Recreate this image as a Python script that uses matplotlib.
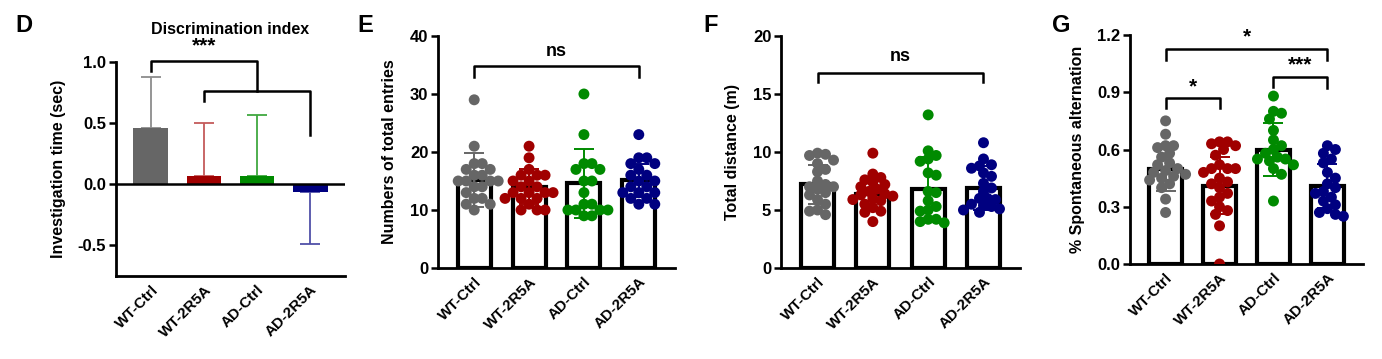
import numpy as np
import matplotlib.pyplot as plt

plt.rcParams['font.family'] = ['Liberation Sans', 'DejaVu Sans']
plt.rcParams['font.weight'] = 'bold'

groups = ['WT-Ctrl', 'WT-2R5A', 'AD-Ctrl', 'AD-2R5A']
colors = ['#666666', '#a00000', '#008a00', '#000080']
light_colors = ['#8c8c8c', '#c45a5a', '#40a840', '#5050a8']

# D - discrimination index (mean, upper/lower SD)
di_mean = [0.46, 0.07, 0.07, -0.06]
di_sd = [0.42, 0.43, 0.50, 0.43]

# E - total entries
entries_wt_ctrl = [29, 21, 18, 18, 17, 17, 16, 16, 15, 15, 15, 15, 14, 14, 13, 12, 12, 11, 11, 10]
entries_wt_2r5a = [21, 19, 17, 16, 16, 16, 15, 15, 14, 14, 13, 13, 13, 13, 12, 12, 12, 11, 10, 10, 10]
entries_ad_ctrl = [30, 23, 18, 18, 17, 17, 15, 15, 13, 11, 11, 10, 10, 10, 10, 9, 9]
entries_ad_2r5a = [23, 19, 19, 18, 18, 17, 16, 16, 15, 15, 14, 14, 13, 13, 13, 12, 12, 11, 11]
entries_mean = [15.2, 14.0, 14.6, 15.1]
entries_sd = [4.6, 3.0, 5.9, 2.9]

# F - total distance
dist_wt_ctrl = [9.9, 9.8, 9.7, 9.3, 9.0, 8.5, 8.3, 7.5, 7.2, 7.0, 7.0, 6.8, 6.5, 6.3, 5.9, 5.5, 5.0, 4.9, 4.6]
dist_wt_2r5a = [9.9, 8.1, 7.8, 7.6, 7.4, 7.2, 7.0, 6.8, 6.6, 6.4, 6.3, 6.2, 6.0, 5.9, 5.8, 5.5, 5.2, 4.9, 4.8, 4.0]
dist_ad_ctrl = [13.2, 10.1, 9.7, 9.4, 9.2, 8.2, 8.0, 6.6, 6.5, 5.8, 5.3, 5.0, 4.9, 4.2, 4.2, 4.0, 3.9]
dist_ad_2r5a = [10.8, 9.4, 8.9, 8.8, 8.6, 8.2, 7.9, 7.3, 6.9, 6.6, 6.0, 6.0, 5.9, 5.5, 5.4, 5.3, 5.1, 5.0, 4.8]
dist_mean = [7.2, 6.4, 6.8, 6.9]
dist_sd = [1.7, 1.3, 2.8, 1.9]

# G - spontaneous alternation
alt_wt_ctrl = [0.75, 0.68, 0.62, 0.62, 0.61, 0.58, 0.56, 0.53, 0.52, 0.50, 0.49, 0.48, 0.47, 0.46, 0.45, 0.44, 0.42, 0.40, 0.34, 0.27]
alt_wt_2r5a = [0.64, 0.64, 0.63, 0.62, 0.60, 0.57, 0.52, 0.50, 0.50, 0.50, 0.48, 0.45, 0.43, 0.42, 0.40, 0.37, 0.35, 0.33, 0.30, 0.28, 0.26, 0.20, 0.00]
alt_ad_ctrl = [0.88, 0.80, 0.79, 0.76, 0.70, 0.65, 0.62, 0.60, 0.58, 0.56, 0.55, 0.55, 0.54, 0.52, 0.50, 0.47, 0.33]
alt_ad_2r5a = [0.62, 0.60, 0.58, 0.55, 0.53, 0.48, 0.45, 0.42, 0.40, 0.38, 0.37, 0.35, 0.33, 0.31, 0.29, 0.27, 0.26, 0.25]
alt_mean = [0.50, 0.41, 0.60, 0.41]
alt_sd = [0.12, 0.15, 0.14, 0.115]

W, H = 1382, 359
fig = plt.figure(figsize=(W / 100, H / 100), dpi=100)


def make_axes(left, right, top, bottom):
    return fig.add_axes([left / W, 1 - bottom / H, (right - left) / W, (bottom - top) / H])


def style(ax, ylim, yticks, ylabel, label_x):
    ax.set_xlim(-0.66, 3.66)
    ax.set_ylim(*ylim)
    ax.set_yticks(yticks)
    ax.spines[['top', 'right']].set_visible(False)
    for s in ['left', 'bottom']:
        ax.spines[s].set_linewidth(2.0)
    ax.tick_params(axis='y', length=5, width=1.8, labelsize=12, pad=2)
    ax.tick_params(axis='x', length=0, pad=5)
    ax.set_xticks(range(4))
    ax.set_xticklabels(groups, rotation=45, ha='right', rotation_mode='anchor',
                       fontsize=11, fontweight='bold')
    for t in ax.get_yticklabels():
        t.set_fontweight('bold')
    ax.set_ylabel(ylabel, fontsize=11.5, fontweight='bold')
    pos = ax.get_position()
    ax.yaxis.set_label_coords((label_x / W - pos.x0) / pos.width, 0.5)


def swarm(ax, x0, vals, color, d=8.0):
    pts = ax.transData.transform([(x0, v) for v in vals])
    px_per_x = ax.transData.transform((1, 0))[0] - ax.transData.transform((0, 0))[0]
    order = np.argsort(vals)[::-1]
    placed = []
    xs = np.zeros(len(vals))
    for i in order:
        y = pts[i, 1]
        for k in [0, 1, -1, 2, -2, 3, -3, 4, -4, 5, -5, 6, -6]:
            dx = k * d * 0.5
            if all((dx - a) ** 2 + (y - b) ** 2 >= d ** 2 for a, b in placed):
                break
        placed.append((dx, y))
        xs[i] = x0 + dx / px_per_x
    ax.scatter(xs, vals, s=62, color=color, edgecolors='none', zorder=3)


def bracket(ax, x1, x2, y, y1, y2, text, ty, lw=1.8, fs=13):
    ax.plot([x1, x1, x2, x2], [y1, y, y, y2], color='black', lw=lw, clip_on=False, zorder=5)
    ax.text((x1 + x2) / 2, ty, text, ha='center', va='center', fontsize=fs,
            fontweight='bold', clip_on=False)


x = np.arange(4)

# ---- D ----
axD = make_axes(116, 345, 62, 276)
style(axD, (-0.75, 1.0), [-0.5, 0.0, 0.5, 1.0], 'Investigation time (sec)', 66)
axD.set_yticklabels(['-0.5', '0.0', '0.5', '1.0'])
axD.bar(x, di_mean, width=0.66, color=colors, zorder=2)
for i in range(4):
    sign = 1 if di_mean[i] >= 0 else -1
    axD.errorbar(x[i], di_mean[i], yerr=[[0], [di_sd[i]]] if sign > 0 else [[di_sd[i]], [0]],
                 fmt='none', ecolor=light_colors[i], elinewidth=1.3, capsize=7, capthick=1.3, zorder=1)
axD.axhline(0, color='black', lw=1.8, zorder=3)
axD.plot([0, 0, 2, 2], [0.93, 1.01, 1.01, 0.76], color='black', lw=1.8, clip_on=False)
axD.plot([1, 1, 3, 3], [0.68, 0.76, 0.76, 0.40], color='black', lw=1.8, clip_on=False)
axD.text(1, 1.13, '***', ha='center', va='center', fontsize=15, fontweight='bold')
fig.text(230 / W, 1 - 29 / H, 'Discrimination index', ha='center', va='center', fontsize=11.5, fontweight='bold')
fig.text(15 / W, 1 - 25 / H, 'D', ha='left', va='center', fontsize=17, fontweight='bold')

# ---- E ----
axE = make_axes(438, 675, 36, 268)
style(axE, (0, 40), [0, 10, 20, 30, 40], 'Numbers of total entries', 397)
axE.bar(x, entries_mean, width=0.6, color='white', edgecolor='black', linewidth=3, zorder=1)
for i, vals in enumerate([entries_wt_ctrl, entries_wt_2r5a, entries_ad_ctrl, entries_ad_2r5a]):
    swarm(axE, i, vals, colors[i])
    axE.errorbar(i, entries_mean[i], yerr=entries_sd[i], fmt='none', ecolor=colors[i],
                 elinewidth=1.4, capsize=7, capthick=1.4, zorder=4)
bracket(axE, 0, 3, 34.8, 33.0, 33.0, 'ns', 37.4, fs=13)
fig.text(357 / W, 1 - 25 / H, 'E', ha='left', va='center', fontsize=17, fontweight='bold')

# ---- F ----
axF = make_axes(781, 1020, 36, 268)
style(axF, (0, 20), [0, 5, 10, 15, 20], 'Total distance (m)', 740)
axF.bar(x, dist_mean, width=0.6, color='white', edgecolor='black', linewidth=3, zorder=1)
for i, vals in enumerate([dist_wt_ctrl, dist_wt_2r5a, dist_ad_ctrl, dist_ad_2r5a]):
    swarm(axF, i, vals, colors[i])
    axF.errorbar(i, dist_mean[i], yerr=dist_sd[i], fmt='none', ecolor=colors[i],
                 elinewidth=1.4, capsize=7, capthick=1.4, zorder=4)
bracket(axF, 0, 3, 16.8, 16.0, 16.0, 'ns', 18.2, fs=13)
fig.text(703 / W, 1 - 25 / H, 'F', ha='left', va='center', fontsize=17, fontweight='bold')

# ---- G ----
axG = make_axes(1130, 1363, 35, 264)
style(axG, (0, 1.2), [0.0, 0.3, 0.6, 0.9, 1.2], '% Spontaneous alternation', 1085)
axG.set_yticklabels(['0.0', '0.3', '0.6', '0.9', '1.2'])
axG.bar(x, alt_mean, width=0.6, color='white', edgecolor='black', linewidth=3, zorder=1)
for i, vals in enumerate([alt_wt_ctrl, alt_wt_2r5a, alt_ad_ctrl, alt_ad_2r5a]):
    swarm(axG, i, vals, colors[i])
    axG.errorbar(i, alt_mean[i], yerr=alt_sd[i], fmt='none', ecolor=colors[i],
                 elinewidth=1.4, capsize=7, capthick=1.4, zorder=4)
bracket(axG, 0, 3, 1.125, 1.07, 1.07, '*', 1.19, fs=15)
bracket(axG, 0, 1, 0.87, 0.815, 0.815, '*', 0.93, fs=15)
bracket(axG, 2, 3, 0.98, 0.93, 0.92, '***', 1.045, fs=15)
fig.text(1052 / W, 1 - 25 / H, 'G', ha='left', va='center', fontsize=17, fontweight='bold')

fig.savefig('out.png', dpi=100)
